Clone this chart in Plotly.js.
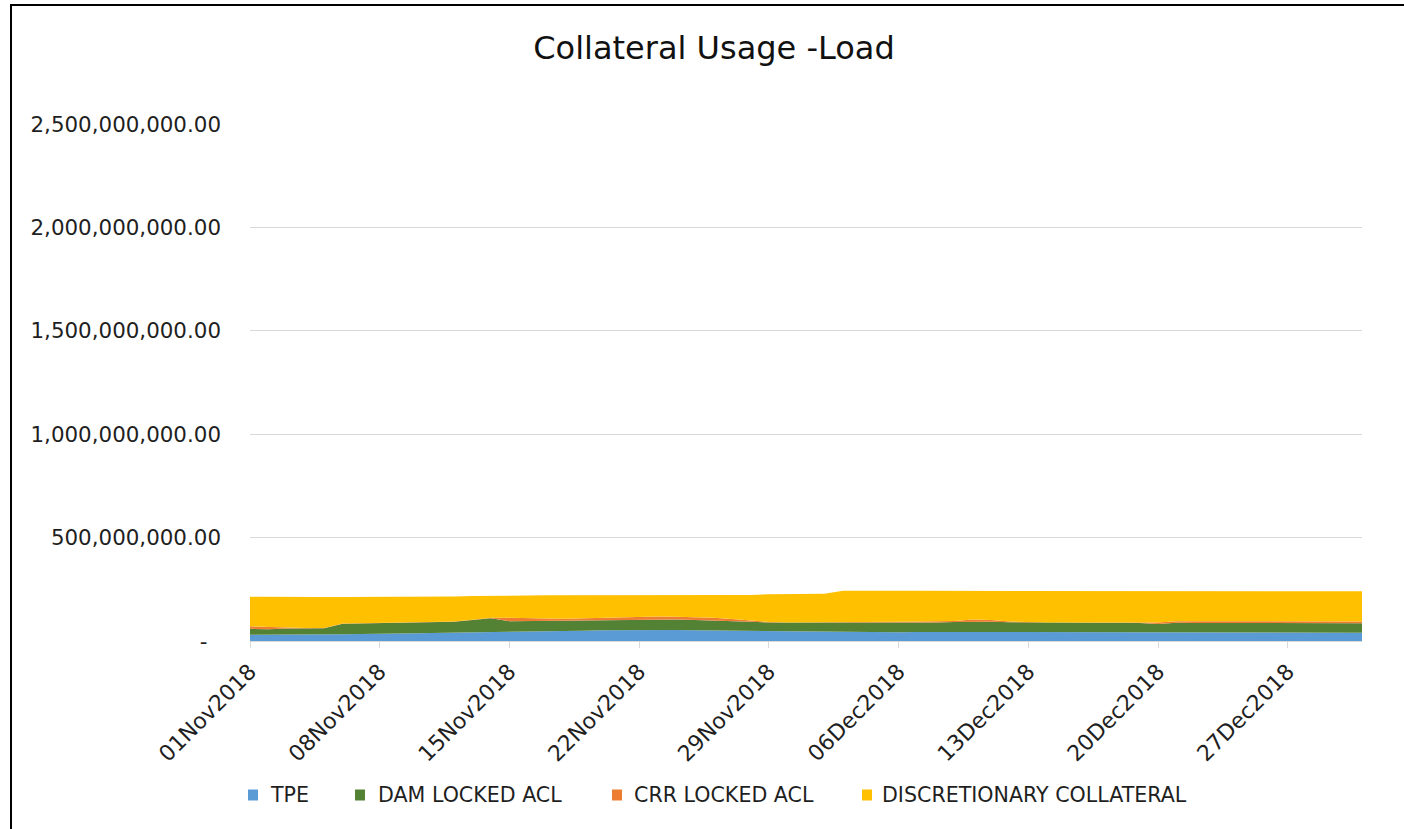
<!DOCTYPE html>
<html>
<head>
<meta charset="utf-8">
<script src="https://cdn.plot.ly/plotly-3.0.1.min.js"></script>
<style>
  html, body { margin: 0; padding: 0; background: #fff; }
  #chart { position: absolute; left: 0; top: 0; width: 1404px; height: 829px; }
  #frame { position: absolute; left: 10px; top: 4px; width: 1394px; height: 825px;
           border-top: 2px solid #000; border-left: 2px solid #000; box-sizing: border-box;
           pointer-events: none; }
</style>
</head>
<body>
<div id="chart"></div>
<div id="frame"></div>
<script>
// Daily values, 01 Nov 2018 – 31 Dec 2018, in millions
const dates = [
  '2018-11-01','2018-11-02','2018-11-03','2018-11-04','2018-11-05','2018-11-06','2018-11-07',
  '2018-11-08','2018-11-09','2018-11-10','2018-11-11','2018-11-12','2018-11-13','2018-11-14',
  '2018-11-15','2018-11-16','2018-11-17','2018-11-18','2018-11-19','2018-11-20','2018-11-21',
  '2018-11-22','2018-11-23','2018-11-24','2018-11-25','2018-11-26','2018-11-27','2018-11-28',
  '2018-11-29','2018-11-30','2018-12-01','2018-12-02','2018-12-03','2018-12-04','2018-12-05',
  '2018-12-06','2018-12-07','2018-12-08','2018-12-09','2018-12-10','2018-12-11','2018-12-12',
  '2018-12-13','2018-12-14','2018-12-15','2018-12-16','2018-12-17','2018-12-18','2018-12-19',
  '2018-12-20','2018-12-21','2018-12-22','2018-12-23','2018-12-24','2018-12-25','2018-12-26',
  '2018-12-27','2018-12-28','2018-12-29','2018-12-30','2018-12-31'
];

const tpe = [30,30,31,31,32,33,34,34,36,38,39,40,42,44,46,
             47,48,49,50,52,53,53,53,53,52,51,49,47,
             46,45,45,44,
             44,43,42,42,43,44,45,45,44,43,43,42,42,42,42,42,
             41,41,41,41,41,41,41,41,41,
             40,40,40,40];

const damLocked = [29,27,29,31,30,51,51,53,52,52,52,53,59,66,49,
                   49,49,48,49,49,49,51,52,51,50,49,48,46,
                   44,44,44,46,
                   46,47,47,46,46,46,47,49,49,48,47,46,46,46,46,46,
                   46,41,47,46,46,46,46,46,46,
                   46,46,46,46];

const crrLocked = [12,11,4,1,1,1,1,1,1,1,1,1,2,2,18,
                   14,12,11,11,13,13,13,13,13,13,12,9,5,
                   2,1,1,1,
                   1,2,4,5,5,5,5,10,8,3,1,1,1,1,1,1,
                   3,8,8,9,9,9,9,9,9,
                   8,8,8,8];

const discretionary = [143,145,149,150,150,128,127,125,124,123,122,121,114,107,106,
                       110,112,113,112,108,106,104,103,104,106,109,115,124,
                       134,137,137,137,
                       152,152,150,150,149,148,146,139,142,149,152,154,154,154,154,154,
                       152,151,144,144,144,144,144,144,144,
                       146,146,146,146];

const seriesNames = ['TPE', 'DAM LOCKED ACL', 'CRR LOCKED ACL', 'DISCRETIONARY COLLATERAL'];
const seriesColors = ['#5B9BD5', '#548235', '#ED7D31', '#FFC000'];

const yTickVals = [0, 500000000, 1000000000, 1500000000, 2000000000, 2500000000];
const yTickText = ['-\u00a0\u00a0', '500,000,000.00', '1,000,000,000.00', '1,500,000,000.00',
                   '2,000,000,000.00', '2,500,000,000.00'];

const MILLION = 1e6;
const seriesValues = [tpe, damLocked, crrLocked, discretionary];

const traces = seriesValues.map((vals, i) => ({
  type: 'scatter',
  mode: 'lines',
  name: seriesNames[i],
  x: dates,
  y: vals.map(v => v * MILLION),
  stackgroup: 'collateral',
  line: { width: 0, color: seriesColors[i] },
  fillcolor: seriesColors[i],
  showlegend: false,
  hovertemplate: '%{x|%d%b%Y}<br>%{y:,.2f}<extra>' + seriesNames[i] + '</extra>'
}));

// Plot area geometry (px)
const W = 1404, H = 829;
const M = { l: 250, r: 42, t: 124, b: 188 };
const pw = W - M.l - M.r, ph = H - M.t - M.b;
const px2x = px => (px - M.l) / pw;
const py2y = py => (H - M.b - py) / ph;

const textColor = '#1f1f1f';
const fontFamily = 'DejaVu Sans, sans-serif';

// Legend: square swatch followed by the series name
const legendSwatchX = [248, 355, 612, 862];
const legendTextX = [268, 376, 632, 880];
const legendY = 795;

const shapes = seriesNames.map((n, i) => ({
  type: 'rect', xref: 'paper', yref: 'paper', layer: 'above',
  x0: px2x(legendSwatchX[i]), x1: px2x(legendSwatchX[i] + 10),
  y0: py2y(legendY - 5.5), y1: py2y(legendY + 5.5),
  fillcolor: seriesColors[i], line: { width: 0 }
}));

const annotations = seriesNames.map((n, i) => ({
  xref: 'paper', yref: 'paper',
  x: px2x(legendTextX[i]), y: py2y(legendY),
  xanchor: 'left', yanchor: 'middle',
  text: n, showarrow: false,
  font: { family: fontFamily, size: 20.6, color: textColor }
}));

const layout = {
  width: W, height: H,
  margin: M,
  paper_bgcolor: '#ffffff',
  plot_bgcolor: '#ffffff',
  showlegend: false,
  title: {
    text: 'Collateral Usage -Load',
    xref: 'container', x: 714 / W, xanchor: 'center',
    yref: 'container', y: 1 - 48 / H, yanchor: 'middle',
    font: { family: fontFamily, size: 32, color: '#111111' }
  },
  xaxis: {
    type: 'date',
    range: ['2018-11-01', '2018-12-31'],
    tick0: '2018-11-01',
    dtick: 7 * 24 * 3600 * 1000,
    tickformat: '%d%b%Y',
    tickangle: -45,
    ticks: 'outside', ticklen: 6, tickcolor: '#d9d9d9', tickwidth: 1,
    showline: true, linecolor: '#d9d9d9', linewidth: 1,
    showgrid: false, zeroline: false,
    tickfont: { family: fontFamily, size: 22, color: textColor },
    ticklabelstandoff: 2
  },
  yaxis: {
    range: [0, 2500000000],
    tickvals: yTickVals,
    ticktext: yTickText,
    showgrid: true, gridcolor: '#d9d9d9', gridwidth: 1,
    zeroline: false, showline: false, ticks: '',
    tickfont: { family: fontFamily, size: 21.4, color: textColor },
    ticklabelstandoff: 28
  },
  shapes: shapes,
  annotations: annotations
};

Plotly.newPlot('chart', traces, layout, { displayModeBar: false, responsive: false });
</script>
</body>
</html>
